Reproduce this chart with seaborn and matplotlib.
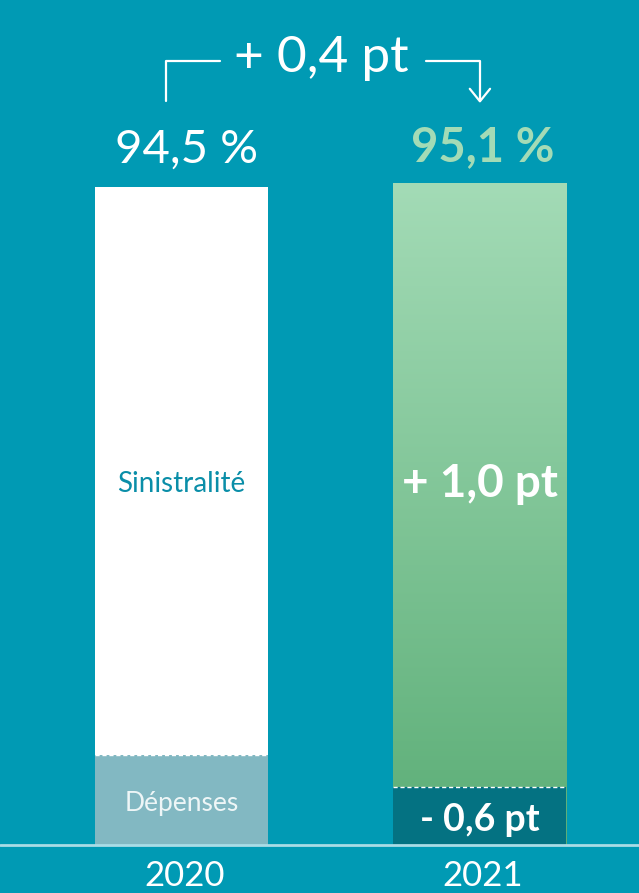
import numpy as np
import matplotlib.pyplot as plt
import seaborn as sns
from matplotlib.colors import LinearSegmentedColormap

# Data
years = ["2020", "2021"]
totals = [94.5, 95.1]
depenses = [12.9, 8.3]
total_labels = ["94,5 %", "95,1 %"]
part_labels = ["Sinistralité", "+ 1,0 pt"]
bottom_labels = ["Dépenses", "- 0,6 pt"]
ecart_label = "+ 0,4 pt"

bg = "#009AB4"
green_top = "#A3DBB6"
green_bot = "#5CAE77"
dep_color = "#82B8C2"
dark_color = "#047282"

sns.set_style("white")
plt.rcParams['font.family'] = ['Lato', 'DejaVu Sans']

fig = plt.figure(figsize=(6.39, 8.93), dpi=100)
fig.patch.set_facecolor(bg)
ax = fig.add_axes([0, 0, 1, 1])
ax.set_facecolor(bg)

# total bars
sns.barplot(x=years, y=totals, hue=years, palette=["white", green_bot], width=0.58,
            saturation=1, legend=False, linewidth=0, ax=ax, zorder=2)
bar21 = ax.patches[1]

# gradient for 2021 bar
cmap = LinearSegmentedColormap.from_list("g", [green_bot, green_top])
grad = np.linspace(0, 1, 256).reshape(-1, 1)
x0 = bar21.get_x()
im = ax.imshow(grad, extent=[x0, x0 + bar21.get_width(), 0, totals[1]], origin="lower",
               aspect="auto", cmap=cmap, zorder=3)
im.set_clip_path(bar21)

# bottom parts
sns.barplot(x=years, y=depenses, hue=years, palette=[dep_color, dark_color], width=0.58,
            saturation=1, legend=False, linewidth=0, ax=ax, zorder=4)
for i, d in enumerate(depenses):
    ax.hlines(d, i - 0.29, i + 0.29, colors="white", linestyles=(0, (3, 2)), lw=1, zorder=5)

ax.axhline(0, color="#A9DCE6", lw=2, zorder=6)

# labels
ax.text(0.017, totals[0] + 5.3, total_labels[0], ha="center", va="center", color="white", fontsize=34)
ax.text(1.01, totals[1] + 5.1, total_labels[1], ha="center", va="center", color=green_top,
        fontsize=34, fontweight="bold")
ax.text(0, 51.8, part_labels[0], ha="center", va="center", color="#0A8EA8", fontsize=20, zorder=7)
ax.text(1, 51.8, part_labels[1], ha="center", va="center", color="white", fontsize=33,
        fontweight="bold", zorder=7)
ax.text(0, 5.9, bottom_labels[0], ha="center", va="center", color="#EEF6F7", fontsize=19, zorder=7)
ax.text(1, 3.6, bottom_labels[1], ha="center", va="center", color="white", fontsize=27,
        fontweight="bold", zorder=7)
for i, y in enumerate(years):
    ax.text(i + 0.01, -4.5, y, ha="center", va="center", color="white", fontsize=25)

# bracket with arrow
ax.text(0.467, 113.0, ecart_label, ha="center", va="center", color="white", fontsize=37)
ax.plot([-0.052, -0.052, 0.129], [106.9, 112.6, 112.6], color="white", lw=1.6)
ax.plot([0.82, 1.0, 1.0], [112.6, 112.6, 106.8], color="white", lw=1.6)
ax.plot([0.966, 1.0, 1.034], [108.6, 106.8, 108.6], color="white", lw=1.6)

ax.set_xlim(-0.608, 1.533)
ax.set_ylim(-6.89, 121.35)
ax.axis("off")

fig.savefig("out.png", dpi=100, facecolor=bg)
